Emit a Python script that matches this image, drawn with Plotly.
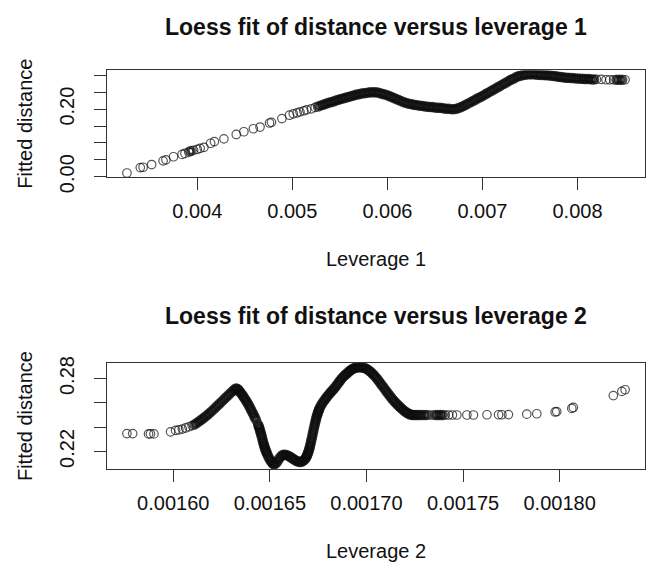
import math
import plotly.graph_objects as go

# ---- Leverage 1: loess fitted distance at each observation ----
lev1 = [
    0.00326, 0.00340, 0.00343, 0.00352, 0.00364, 0.00367, 0.00375, 0.00384,
    0.00387, 0.00391, 0.00393, 0.00396, 0.00400, 0.00403, 0.00407, 0.00414,
    0.00418, 0.00428, 0.00441, 0.00449, 0.00459, 0.00466, 0.00476, 0.00478,
    0.00489, 0.00497, 0.00501, 0.00505, 0.00508, 0.00512, 0.00515, 0.00520,
    0.00524, 0.00527,
    0.005300, 0.005325, 0.005350, 0.005375, 0.005400, 0.005425, 0.005450, 0.005475,
    0.005500, 0.005525, 0.005550, 0.005575, 0.005600, 0.005625, 0.005650, 0.005675,
    0.005700, 0.005725, 0.005750, 0.005775, 0.005800, 0.005825, 0.005850, 0.005875,
    0.005900, 0.005925, 0.005950, 0.005975, 0.006000, 0.006025, 0.006050, 0.006075,
    0.006100, 0.006125, 0.006150, 0.006175, 0.006200, 0.006225, 0.006250, 0.006275,
    0.006300, 0.006325, 0.006350, 0.006375, 0.006400, 0.006425, 0.006450, 0.006475,
    0.006500, 0.006525, 0.006550, 0.006575, 0.006600, 0.006625, 0.006650, 0.006675,
    0.006700, 0.006725, 0.006750, 0.006775, 0.006800, 0.006825, 0.006850, 0.006875,
    0.006900, 0.006925, 0.006950, 0.006975, 0.007000, 0.007025, 0.007050, 0.007075,
    0.007100, 0.007125, 0.007150, 0.007175, 0.007200, 0.007225, 0.007250, 0.007275,
    0.007300, 0.007325, 0.007350, 0.007375, 0.007400, 0.007425, 0.007450, 0.007475,
    0.007500, 0.007525, 0.007550, 0.007575, 0.007600, 0.007625, 0.007650, 0.007675,
    0.007700, 0.007725, 0.007750, 0.007775, 0.007800, 0.007825, 0.007850, 0.007875,
    0.007900, 0.007925, 0.007950, 0.007975, 0.008000, 0.008025, 0.008050, 0.008075,
    0.008100, 0.008125, 0.008150, 0.008175, 0.008200,
    0.00825, 0.00830, 0.00834, 0.00838, 0.00841, 0.00844, 0.00847, 0.00850,
]
fit1 = [
    0.011, 0.027, 0.028, 0.036, 0.047, 0.050, 0.059, 0.066,
    0.069, 0.073, 0.076, 0.078, 0.081, 0.084, 0.087, 0.099,
    0.104, 0.112, 0.125, 0.133, 0.142, 0.147, 0.159, 0.161,
    0.172, 0.182, 0.186, 0.189, 0.192, 0.195, 0.198, 0.201,
    0.205, 0.208,
    0.211, 0.213, 0.216, 0.218, 0.220, 0.222, 0.225, 0.227,
    0.229, 0.231, 0.233, 0.235, 0.237, 0.239, 0.241, 0.243,
    0.244, 0.246, 0.247, 0.248, 0.249, 0.250, 0.250, 0.250,
    0.249, 0.247, 0.245, 0.243, 0.241, 0.238, 0.235, 0.232,
    0.229, 0.226, 0.223, 0.220, 0.218, 0.216, 0.215, 0.213,
    0.212, 0.211, 0.210, 0.209, 0.208, 0.207, 0.206, 0.206,
    0.205, 0.204, 0.204, 0.203, 0.202, 0.201, 0.201, 0.200,
    0.200, 0.201, 0.203, 0.206, 0.209, 0.213, 0.217, 0.220,
    0.224, 0.228, 0.232, 0.235, 0.239, 0.243, 0.247, 0.251,
    0.255, 0.259, 0.263, 0.267, 0.271, 0.275, 0.279, 0.283,
    0.287, 0.290, 0.294, 0.297, 0.299, 0.301, 0.302, 0.303,
    0.303, 0.303, 0.303, 0.302, 0.302, 0.301, 0.301, 0.300,
    0.300, 0.299, 0.298, 0.297, 0.296, 0.295, 0.294, 0.293,
    0.293, 0.292, 0.292, 0.291, 0.291, 0.290, 0.290, 0.289,
    0.289, 0.289, 0.288, 0.288, 0.288,
    0.288, 0.287, 0.287, 0.287, 0.287, 0.287, 0.287, 0.287,
]

# ---- Leverage 2: loess fitted distance at each observation ----
lev2 = [
    0.0015760, 0.0015790, 0.0015872, 0.0015882, 0.0015900, 0.0015986,
    0.0016012, 0.0016029, 0.0016047, 0.0016064, 0.0016081, 0.0016098,
    0.0016110, 0.0016121, 0.0016132, 0.0016143, 0.0016154, 0.0016165, 0.0016176,
    0.0016187, 0.0016198, 0.0016209, 0.0016220, 0.0016231, 0.0016242, 0.0016253,
    0.0016264, 0.0016275, 0.0016286, 0.0016297, 0.0016308, 0.0016317, 0.0016324,
    0.0016330, 0.0016336, 0.0016342, 0.0016348, 0.0016354, 0.0016360, 0.0016366,
    0.0016372, 0.0016378, 0.0016384, 0.0016390, 0.0016396, 0.0016402, 0.0016408,
    0.0016414, 0.0016420, 0.0016426, 0.0016432, 0.0016438, 0.0016441, 0.0016444,
    0.0016447, 0.0016450, 0.0016453, 0.0016456, 0.0016459, 0.0016462, 0.0016465,
    0.0016468, 0.0016471, 0.0016474, 0.0016477, 0.0016480, 0.0016483, 0.0016486,
    0.0016492, 0.0016498, 0.0016504, 0.0016510, 0.0016516, 0.0016522,
    0.0016530, 0.0016538, 0.0016546, 0.0016554, 0.0016562, 0.0016570, 0.0016578,
    0.0016586, 0.0016594, 0.0016602, 0.0016610, 0.0016618, 0.0016626, 0.0016634,
    0.0016642, 0.0016650, 0.0016658, 0.0016666, 0.0016674,
    0.0016680, 0.0016686, 0.0016689, 0.0016692, 0.0016695, 0.0016698, 0.0016701,
    0.0016704, 0.0016707, 0.0016710, 0.0016713, 0.0016716, 0.0016719, 0.0016722,
    0.0016725, 0.0016728, 0.0016731, 0.0016734, 0.0016737, 0.0016740, 0.0016743,
    0.0016746, 0.0016749, 0.0016752, 0.0016755, 0.0016758, 0.0016764,
    0.0016771, 0.0016778, 0.0016785, 0.0016792, 0.0016799, 0.0016806,
    0.0016813, 0.0016820, 0.0016827, 0.0016834, 0.0016841, 0.0016848, 0.0016855,
    0.0016862, 0.0016869, 0.0016876, 0.0016883, 0.0016890, 0.0016897, 0.0016904,
    0.0016911, 0.0016918, 0.0016925, 0.0016932, 0.0016939, 0.0016946, 0.0016953,
    0.0016960,
    0.0016968, 0.0016976, 0.0016984, 0.0016992, 0.0017000, 0.0017008, 0.0017016,
    0.0017024, 0.0017032, 0.0017040, 0.0017048, 0.0017056, 0.0017064, 0.0017072,
    0.0017080, 0.0017088, 0.0017096, 0.0017104, 0.0017112, 0.0017120, 0.0017128,
    0.0017136, 0.0017144, 0.0017152, 0.0017160, 0.0017168, 0.0017176, 0.0017184,
    0.0017192, 0.0017200, 0.0017208, 0.0017216, 0.0017224, 0.0017232, 0.0017240,
    0.0017250, 0.0017258, 0.0017270, 0.0017282, 0.0017296, 0.0017310, 0.0017322,
    0.0017340, 0.0017356, 0.0017370, 0.0017382, 0.0017395, 0.0017408, 0.0017425,
    0.0017445, 0.0017468, 0.0017520, 0.0017554, 0.0017624, 0.0017684, 0.0017701,
    0.0017735, 0.0017830, 0.0017882, 0.0017977, 0.0017985, 0.0018063, 0.0018071,
    0.0018278, 0.0018322, 0.0018339,
]
fit2 = [
    0.2347, 0.2347, 0.2344, 0.2344, 0.2344, 0.2361,
    0.2373, 0.2378, 0.2384, 0.2393, 0.2403, 0.2413,
    0.2422, 0.2433, 0.2445, 0.2458, 0.2471, 0.2485, 0.2499,
    0.2514, 0.2530, 0.2546, 0.2563, 0.2580, 0.2597, 0.2614,
    0.2631, 0.2648, 0.2665, 0.2682, 0.2698, 0.2710, 0.2718,
    0.2716, 0.2710, 0.2698, 0.2685, 0.2672, 0.2660, 0.2645,
    0.2630, 0.2615, 0.2600, 0.2582, 0.2564, 0.2545, 0.2527,
    0.2508, 0.2488, 0.2468, 0.2448, 0.2425, 0.2413, 0.2400,
    0.2384, 0.2368, 0.2351, 0.2334, 0.2316, 0.2297, 0.2278,
    0.2260, 0.2245, 0.2230, 0.2216, 0.2203, 0.2190, 0.2178,
    0.2158, 0.2140, 0.2123, 0.2110, 0.2099, 0.2093,
    0.2100, 0.2115, 0.2135, 0.2152, 0.2166, 0.2173, 0.2173,
    0.2170, 0.2165, 0.2158, 0.2150, 0.2142, 0.2133, 0.2125,
    0.2118, 0.2114, 0.2113, 0.2116, 0.2124,
    0.2132, 0.2145, 0.2154, 0.2165, 0.2177, 0.2190, 0.2204,
    0.2220, 0.2238, 0.2258, 0.2279, 0.2300, 0.2322, 0.2345,
    0.2367, 0.2390, 0.2412, 0.2433, 0.2453, 0.2472, 0.2489,
    0.2505, 0.2520, 0.2533, 0.2546, 0.2558, 0.2578,
    0.2595, 0.2612, 0.2627, 0.2642, 0.2656, 0.2670,
    0.2683, 0.2696, 0.2708, 0.2720, 0.2735, 0.2750, 0.2766,
    0.2780, 0.2795, 0.2808, 0.2820, 0.2830, 0.2840, 0.2850,
    0.2860, 0.2868, 0.2876, 0.2882, 0.2887, 0.2891, 0.2893,
    0.2894,
    0.2894, 0.2892, 0.2890, 0.2886, 0.2880, 0.2872, 0.2862,
    0.2852, 0.2840, 0.2826, 0.2812, 0.2797, 0.2780, 0.2762,
    0.2745, 0.2728, 0.2711, 0.2694, 0.2677, 0.2660, 0.2644,
    0.2628, 0.2613, 0.2600, 0.2587, 0.2574, 0.2562, 0.2550,
    0.2538, 0.2528, 0.2520, 0.2512, 0.2506, 0.2502, 0.2500,
    0.2500, 0.2500, 0.2500, 0.2500, 0.2500, 0.2500, 0.2500,
    0.2500, 0.2500, 0.2500, 0.2500, 0.2500, 0.2500, 0.2500,
    0.2500, 0.2500, 0.2500, 0.2500, 0.2502, 0.2502, 0.2502,
    0.2503, 0.2507, 0.2510, 0.2525, 0.2528, 0.2554, 0.2562,
    0.2660, 0.2694, 0.2708,
]

x1_ticks = [0.004, 0.005, 0.006, 0.007, 0.008]
x1_labels = ["0.004", "0.005", "0.006", "0.007", "0.008"]
y1_ticks = [0.00, 0.05, 0.10, 0.15, 0.20, 0.25, 0.30]
y1_labels = ["0.00", "", "", "", "0.20", "", ""]
x2_ticks = [0.00160, 0.00165, 0.00170, 0.00175, 0.00180]
x2_labels = ["0.00160", "0.00165", "0.00170", "0.00175", "0.00180"]
y2_ticks = [0.22, 0.24, 0.26, 0.28]
y2_labels = ["0.22", "", "", "0.28"]

titles = ["Loess fit of distance versus leverage 1",
          "Loess fit of distance versus leverage 2"]
xlabels = ["Leverage 1", "Leverage 2"]
ylabel = "Fitted distance"

# ---- page geometry (pixels) ----
W, H = 648, 579
FONT = "Liberation Sans, Arial, Helvetica, sans-serif"
INK = "#111111"
LEFT, RIGHT = 107, 645
PANELS = [(66, 177), (371, 481)]   # top/bottom pixel rows of each plot box
RANGES = [((0.00305, 0.00871), (-0.0008, 0.3147)),
          ((0.0015657, 0.0018442), (0.2056, 0.2926))]


def px_x(p):
    return p / W


def px_y(p):
    return 1 - p / H


def circle_style(xs, ys, xr, yr, box_w, box_h):
    """Open circles; where neighbouring circles pile up closely (a run of
    fitted values along the curve) the rings are drawn heavier so they merge
    into a solid band, as the overplotted R symbols do."""
    sx = box_w / (xr[1] - xr[0])
    sy = box_h / (yr[1] - yr[0])
    n = len(xs)
    sizes, widths = [], []
    for i in range(n):
        gaps = [math.hypot((xs[j] - xs[i]) * sx, (ys[j] - ys[i]) * sy)
                for j in (i - 1, i + 1) if 0 <= j < n]
        packed = len(gaps) == 2 and max(gaps) <= 3.1
        sizes.append(7.2 if packed else 8.5)
        widths.append(3.3 if packed else 1.2)
    return dict(symbol="circle-open", size=sizes, color="#0d0d0d",
                line=dict(width=widths, color="#0d0d0d"))


fig = go.Figure()
series = [(lev1, fit1, "x", "y"), (lev2, fit2, "x2", "y2")]
for k, (xs, ys, xa, ya) in enumerate(series):
    top, bot = PANELS[k]
    xr, yr = RANGES[k]
    fig.add_trace(go.Scatter(
        x=xs, y=ys, mode="markers", xaxis=xa, yaxis=ya, showlegend=False,
        marker=circle_style(xs, ys, xr, yr, RIGHT - LEFT, bot - top)))

tickfont = dict(family=FONT, size=20, color=INK)
axis_common = dict(showgrid=False, zeroline=False, showline=True, mirror=True,
                   linecolor="#333333", linewidth=1, ticks="outside",
                   ticklen=12, tickwidth=1, tickcolor="#333333",
                   tickfont=tickfont, fixedrange=True)

xdom = [px_x(LEFT), px_x(RIGHT)]
(t1, b1), (t2, b2) = PANELS
fig.update_layout(
    width=W, height=H,
    margin=dict(l=0, r=0, t=0, b=0),
    paper_bgcolor="white", plot_bgcolor="white",
    xaxis=dict(domain=xdom, anchor="y", range=list(RANGES[0][0]),
               tickmode="array", tickvals=x1_ticks, ticktext=x1_labels,
               ticklabelstandoff=4, **axis_common),
    yaxis=dict(domain=[px_y(b1), px_y(t1)], anchor="x", range=list(RANGES[0][1]),
               tickmode="array", tickvals=y1_ticks, ticktext=y1_labels,
               tickangle=-90, ticklabelstandoff=12, **axis_common),
    xaxis2=dict(domain=xdom, anchor="y2", range=list(RANGES[1][0]),
                tickmode="array", tickvals=x2_ticks, ticktext=x2_labels,
                ticklabelstandoff=4, **axis_common),
    yaxis2=dict(domain=[px_y(b2), px_y(t2)], anchor="x2", range=list(RANGES[1][1]),
                tickmode="array", tickvals=y2_ticks, ticktext=y2_labels,
                tickangle=-90, ticklabelstandoff=12, **axis_common),
)

cx = px_x((LEFT + RIGHT) / 2)
title_rows = [21, 322]
xlabel_rows = [262, 566]
for i in range(2):
    top, bot = PANELS[i]
    fig.add_annotation(text=f"<b>{titles[i]}</b>", x=cx, y=px_y(title_rows[i]),
                       xref="paper", yref="paper", showarrow=False,
                       xanchor="center", yanchor="middle",
                       font=dict(family=FONT, size=23, color=INK))
    fig.add_annotation(text=xlabels[i], x=cx, y=px_y(xlabel_rows[i]),
                       xref="paper", yref="paper", showarrow=False,
                       xanchor="center", yanchor="middle",
                       font=dict(family=FONT, size=20, color=INK))
    fig.add_annotation(text=ylabel, x=px_x(25), y=px_y((top + bot) / 2),
                       xref="paper", yref="paper", showarrow=False,
                       textangle=-90, xanchor="center", yanchor="middle",
                       font=dict(family=FONT, size=20, color=INK))

# the figure is sized to the page exactly, so drop the body's default margin
fig.write_html("out.html", post_script="document.body.style.margin='0';")
